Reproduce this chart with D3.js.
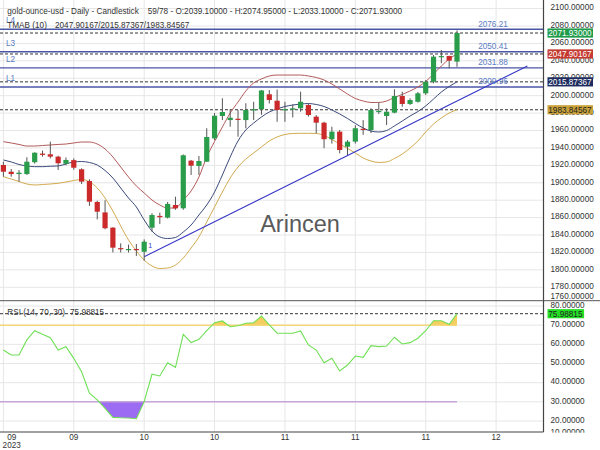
<!DOCTYPE html>
<html><head><meta charset="utf-8">
<script src="https://cdn.jsdelivr.net/npm/d3@7"></script>
<style>body{margin:0;background:#fff}svg{font-family:"Liberation Sans",Arial,sans-serif;display:block}</style>
</head><body><svg id="c" width="600" height="450"></svg>
<script>
// ---- data ----
const opens  = [1920.4,1912.7,1910.0,1910.0,1923.6,1933.5,1932.7,1930.0,1921.8,1926.0,1915.5,1902.0,1878.0,1866.0,1848.5,1825.0,1822.6,1824.0,1820.8,1848.4,1862.0,1860.0,1874.5,1870.7,1925.4,1919.3,1924.2,1951.0,1976.7,1972.0,1973.5,1972.0,1983.6,1984.4,2001.6,1994.2,1984.0,1984.0,1985.5,1989.3,1975.9,1969.0,1950.0,1958.7,1941.4,1947.2,1962.0,1960.6,1982.0,1976.7,1980.5,1999.6,1990.5,1993.0,2002.7,2016.0,2044.1,2045.6,2039.1];
const highs  = [1924.2,1915.8,1914.7,1929.3,1935.0,1937.0,1947.2,1931.0,1929.0,1928.0,1916.6,1904.0,1879.4,1880.0,1849.0,1830.5,1829.0,1829.7,1835.0,1865.0,1865.7,1878.0,1884.0,1932.5,1926.2,1930.8,1962.6,1980.0,1997.0,1984.4,1983.6,1991.3,1993.0,2006.5,2006.5,2007.0,1993.0,1990.0,2004.6,1991.0,1977.8,1970.0,1964.4,1960.6,1949.0,1966.0,1972.0,1985.5,1992.0,1985.5,2007.3,2004.6,1997.0,2004.2,2018.0,2046.7,2052.4,2045.8,2074.95];
const lows   = [1907.0,1907.0,1901.2,1909.0,1922.0,1930.0,1928.0,1914.7,1920.0,1915.0,1898.6,1873.4,1858.0,1846.6,1820.0,1820.0,1820.0,1816.0,1810.5,1844.0,1852.7,1859.0,1869.0,1869.0,1909.0,1909.0,1924.0,1949.0,1972.0,1964.4,1952.9,1962.6,1972.0,1978.0,1991.0,1970.0,1970.0,1975.0,1981.6,1976.0,1956.8,1939.6,1945.0,1933.8,1931.9,1945.0,1955.0,1957.0,1979.0,1966.3,1979.8,1987.3,1989.3,1992.0,2000.8,2014.2,2037.2,2031.4,2033.1];
const closes = [1912.7,1910.0,1911.6,1924.2,1934.5,1932.0,1930.0,1922.4,1926.2,1917.3,1901.3,1878.3,1866.8,1847.8,1825.5,1824.0,1824.0,1822.8,1832.4,1863.0,1860.5,1875.7,1870.7,1931.6,1919.6,1925.0,1952.6,1977.0,1981.3,1974.7,1972.6,1983.6,1984.4,2006.0,1995.0,1983.6,1984.5,1985.5,1993.0,1977.8,1969.0,1950.0,1958.7,1937.6,1947.2,1962.6,1960.7,1983.6,1982.5,1981.6,1999.6,1990.5,1995.0,2002.7,2016.0,2044.8,2045.5,2040.2,2071.93];
const tmaUpper = [1947.2,1945.7,1944.0,1942.2,1942.2,1942.8,1943.4,1944.0,1944.5,1945.7,1946.8,1946.8,1944.5,1938.8,1929.6,1918.1,1906.6,1896.3,1888.3,1880.2,1874.5,1871.0,1871.0,1880.2,1890.6,1906.6,1929.6,1947.4,1964.0,1980.1,1992.7,2005.4,2014.6,2019.2,2022.6,2023.7,2023.7,2023.7,2023.7,2022.6,2020.9,2018.0,2013.4,2007.7,2001.9,1996.8,1993.9,1992.2,1992.2,1993.9,1997.9,2001.4,2005.4,2010.0,2016.3,2024.9,2034.1,2042.1,2047.90];
const tmaMid   = [1926.2,1923.9,1921.0,1919.3,1918.5,1918.5,1919.0,1919.3,1921.6,1923.9,1924.4,1923.3,1920.4,1914.1,1905.5,1894.0,1882.5,1872.2,1857.3,1844.6,1837.8,1836.0,1837.2,1843.5,1851.5,1863.0,1874.5,1889.4,1908.9,1929.6,1948.0,1960.6,1968.6,1975.5,1981.3,1984.7,1987.6,1989.3,1990.4,1991.0,1989.9,1987.6,1983.6,1979.0,1973.8,1968.1,1962.9,1959.4,1958.3,1960.0,1965.2,1970.9,1976.7,1981.8,1988.2,1996.2,2004.2,2010.5,2015.87];
const tmaLower = [1907.0,1904.3,1901.5,1898.6,1897.5,1898.0,1898.6,1899.4,1900.9,1902.6,1903.8,1901.2,1894.0,1882.5,1867.6,1850.4,1834.3,1821.7,1811.3,1804.5,1801.6,1802.2,1805.6,1813.6,1825.1,1837.8,1855.0,1872.2,1889.4,1905.5,1918.1,1927.3,1934.2,1941.1,1948.0,1952.6,1955.4,1956.6,1956.8,1956.8,1956.6,1954.3,1949.7,1944.5,1939.4,1934.2,1928.5,1925.0,1923.3,1923.9,1927.9,1933.0,1939.9,1948.0,1958.3,1967.5,1974.4,1980.1,1983.85];
const rsiValues = [57.0,54.4,54.4,62.3,67.1,65.2,63.5,57.0,58.8,52.7,45.7,34.5,31.0,26.6,21.9,21.7,21.6,21.2,30.1,44.4,43.5,50.4,48.0,65.2,60.9,62.6,67.1,71.3,72.2,69.2,69.7,71.0,71.3,74.8,70.1,65.8,65.8,65.8,67.0,59.7,57.0,50.4,52.7,46.1,49.2,53.9,53.2,59.3,58.8,59.1,63.7,60.2,60.9,63.2,67.1,72.3,72.3,70.5,75.99];
const xTickIdx    = [0,9,18,27,36,45,54,63];
const xTickLabels = ["09","09","10","10","11","11","11","12"];
const priceTicks  = d3.range(1760, 2101, 20);
const rsiTicks    = [10,20,30,40,50,60,70,80];
const levelNames  = ["L4","L3","L2","L1"];
const levelValues = [2076.21,2050.41,2031.88,2009.96];
const trendIdx    = [18,67];
const trendVals   = [1815.1,2034.1];
const lastClose = 2071.93, tmaLast = [2047.90167,2015.87367,1983.84567], rsiLast = 75.98815;

// ---- layout ----
const svg = d3.select("#c");
const W = 600, plotR = 543.5, mainB = 300.7, rsiB = 432;
const x  = d3.scaleLinear().domain([0,58]).range([3.4,457]);
const y  = d3.scaleLinear().domain([2080,1780]).range([26,287.3]);
const yr = d3.scaleLinear().domain([80,20]).range([306,421]);
const fs = "8.2px";

const defs = svg.append("defs");
defs.append("clipPath").attr("id","cm").append("rect").attr("x",0).attr("y",0).attr("width",plotR).attr("height",mainB);
defs.append("clipPath").attr("id","cr").append("rect").attr("x",0).attr("y",mainB).attr("width",plotR).attr("height",rsiB-mainB);
defs.append("clipPath").attr("id","cUp").append("rect").attr("x",0).attr("y",mainB).attr("width",plotR).attr("height",yr(70)-mainB);
defs.append("clipPath").attr("id","cDn").append("rect").attr("x",0).attr("y",yr(30)).attr("width",plotR).attr("height",rsiB-yr(30));
defs.append("clipPath").attr("id","cAx").append("rect").attr("x",plotR).attr("y",0).attr("width",W-plotR).attr("height",rsiB+0.7);

// grid
const grid = svg.append("g").attr("stroke","#e6e6e6").attr("stroke-width",1);
grid.selectAll(".gv").data(xTickIdx).join("line")
  .attr("x1",d=>x(d)).attr("x2",d=>x(d)).attr("y1",0).attr("y2",rsiB);
grid.append("g").attr("clip-path","url(#cm)").selectAll("line").data(priceTicks).join("line")
  .attr("x1",0).attr("x2",plotR).attr("y1",d=>y(d)).attr("y2",d=>y(d));
grid.append("g").attr("clip-path","url(#cr)").selectAll("line").data(rsiTicks).join("line")
  .attr("x1",0).attr("x2",plotR).attr("y1",d=>yr(d)).attr("y2",d=>yr(d));

// watermark
svg.append("text").attr("x",300).attr("y",232).attr("text-anchor","middle")
  .attr("font-size","23.5px").attr("fill","#5a5a5a").text("Arincen");

const main = svg.append("g").attr("clip-path","url(#cm)");

// level lines
main.selectAll(".lv").data(levelValues).join("line")
  .attr("x1",0).attr("x2",plotR).attr("y1",d=>y(d)).attr("y2",d=>y(d))
  .attr("stroke","#4a56a6").attr("stroke-width",1.4);
// dashed value lines
main.selectAll(".dl").data([lastClose].concat(tmaLast)).join("line")
  .attr("x1",0).attr("x2",plotR).attr("y1",d=>y(d)).attr("y2",d=>y(d))
  .attr("stroke","#333").attr("stroke-width",1).attr("stroke-dasharray","3,2");

// TMA bands
const bandLine = d3.line().x((d,i)=>x(i)).y(d=>y(d)).curve(d3.curveMonotoneX);
[[tmaUpper,"#b35a5a"],[tmaMid,"#3b4a7a"],[tmaLower,"#d2aa4e"]].forEach(([arr,col])=>{
  main.append("path").attr("d",bandLine(arr)).attr("fill","none").attr("stroke",col).attr("stroke-width",1);
});

// trend line
main.append("line").attr("x1",x(trendIdx[0])).attr("y1",y(trendVals[0]))
  .attr("x2",x(trendIdx[1])).attr("y2",y(trendVals[1]))
  .attr("stroke","#3636c8").attr("stroke-width",1.1);
main.append("text").attr("x",x(trendIdx[0])+4).attr("y",y(trendVals[0])-9)
  .attr("font-size","7px").attr("fill","#3636c8").text("1");

// candles
const up="#2a9d4b", dn="#cc2a2a";
const cg = main.append("g");
closes.forEach((c,i)=>{
  const o=opens[i], col = c>=o?up:dn;
  cg.append("line").attr("x1",x(i)).attr("x2",x(i)).attr("y1",y(highs[i])).attr("y2",y(lows[i]))
    .attr("stroke","#555").attr("stroke-width",1);
  const top=y(Math.max(o,c)), h=Math.max(1.2,Math.abs(y(o)-y(c)));
  cg.append("rect").attr("x",x(i)-2.6).attr("width",5.2).attr("y",top).attr("height",h).attr("fill",col);
});

// level labels
const lbl = svg.append("g").attr("font-size",fs).attr("fill","#5b7bc4");
levelValues.forEach((v,k)=>{
  lbl.append("text").attr("x",6).attr("y",y(v)-6).text(levelNames[k]);
  lbl.append("text").attr("x",493).attr("y",y(v)-2.6).attr("text-anchor","middle").text(v.toFixed(2));
});

// headers
const hd = svg.append("g").attr("font-size",fs).attr("fill","#333");
hd.append("text").attr("x",7.3).attr("y",13.5).text("gold-ounce-usd - Daily - Candlestick");
hd.append("text").attr("x",147.7).attr("y",13.5).text("59/78 - O:2039.10000 - H:2074.95000 - L:2033.10000 - C:2071.93000");
hd.append("text").attr("x",7.3).attr("y",28).text("TMAB (10)");
hd.append("text").attr("x",55).attr("y",28).text(tmaLast.map(d=>d.toFixed(5)).join("/"));

// RSI panel
const rp = svg.append("g").attr("clip-path","url(#cr)");
const rsiArea = (base)=>d3.area().x((d,i)=>x(i)).y0(yr(base)).y1(d=>yr(d));
rp.append("path").attr("clip-path","url(#cUp)").attr("d",rsiArea(70)(rsiValues)).attr("fill","#f3c94c").attr("opacity",0.9);
rp.append("path").attr("clip-path","url(#cDn)").attr("d",rsiArea(30)(rsiValues)).attr("fill","#9c6cf2");
rp.append("line").attr("x1",0).attr("x2",x(58)).attr("y1",yr(70)).attr("y2",yr(70)).attr("stroke","#f5d877").attr("stroke-width",1.5);
rp.append("line").attr("x1",0).attr("x2",x(58)).attr("y1",yr(30)).attr("y2",yr(30)).attr("stroke","#c6a6d8").attr("stroke-width",1.5);
rp.append("line").attr("x1",0).attr("x2",plotR).attr("y1",yr(rsiLast)).attr("y2",yr(rsiLast))
  .attr("stroke","#333").attr("stroke-dasharray","3,2");
rp.append("path").attr("d",d3.line().x((d,i)=>x(i)).y(d=>yr(d))(rsiValues))
  .attr("fill","none").attr("stroke","#6fe055").attr("stroke-width",1.1);
svg.append("text").attr("x",7.3).attr("y",314.5).attr("font-size",fs).attr("fill","#333").text("RSI (14, 70, 30)");
svg.append("text").attr("x",70).attr("y",314.5).attr("font-size",fs).attr("fill","#333").text(rsiLast.toFixed(5));

// frame lines
svg.append("line").attr("x1",0).attr("x2",W).attr("y1",mainB).attr("y2",mainB).attr("stroke","#555").attr("stroke-width",1);
svg.append("line").attr("x1",0).attr("x2",plotR).attr("y1",rsiB).attr("y2",rsiB).attr("stroke","#444").attr("stroke-width",1.2);
svg.append("line").attr("x1",plotR).attr("x2",plotR).attr("y1",0).attr("y2",rsiB).attr("stroke","#444").attr("stroke-width",1.2);

// right axes
const ax = svg.append("g").attr("clip-path","url(#cAx)").attr("font-size",fs).attr("fill","#333");
const yAx = d3.axisRight(y).tickValues(priceTicks).tickSize(0).tickPadding(7).tickFormat(d3.format(".5f"));
const gA = ax.append("g").attr("transform",`translate(${plotR},0)`).call(yAx);
gA.select(".domain").remove();
gA.selectAll(".tick").attr("transform",d=>`translate(0,${Math.min(y(d)-0.8,296.6)})`);
const rAx = d3.axisRight(yr).tickValues(rsiTicks).tickSize(0).tickPadding(7).tickFormat(d3.format(".5f"));
const gR = ax.append("g").attr("transform",`translate(${plotR},0)`).call(rAx);
gR.select(".domain").remove();
gR.selectAll(".tick").attr("transform",d=>`translate(0,${Math.min(yr(d)-0.8,432)})`);
ax.selectAll("text").attr("font-size",fs).attr("fill","#333").attr("font-family","'Liberation Sans',Arial,sans-serif");

// value boxes
const boxes = [[lastClose,y,"#1f9b4a","#fff"],[tmaLast[0],y,"#c43a30","#fff"],[tmaLast[1],y,"#1d2b5e","#fff"],[tmaLast[2],y,"#c9a23a","#222"],[rsiLast,yr,"#26e026","#222"]];
boxes.forEach(([v,sc,bg,fg])=>{
  const t = v.toFixed(5), w = t.length*4.45+1;
  svg.append("rect").attr("x",547.5).attr("y",sc(v)-4.6).attr("width",w).attr("height",9.2).attr("fill",bg);
  svg.append("text").attr("x",548.3).attr("y",sc(v)+3).attr("font-size",fs).attr("fill",fg).text(t);
});

// x axis labels
const xl = svg.append("g").attr("font-size",fs).attr("fill","#333").attr("text-anchor","middle");
xTickIdx.forEach((d,k)=>{
  const px = k===0 ? 11.7 : x(d);
  xl.append("text").attr("x",px).attr("y",439.8).text(xTickLabels[k]);
});
xl.append("text").attr("x",11.7).attr("y",448.3).text("2023");
</script></body></html>
